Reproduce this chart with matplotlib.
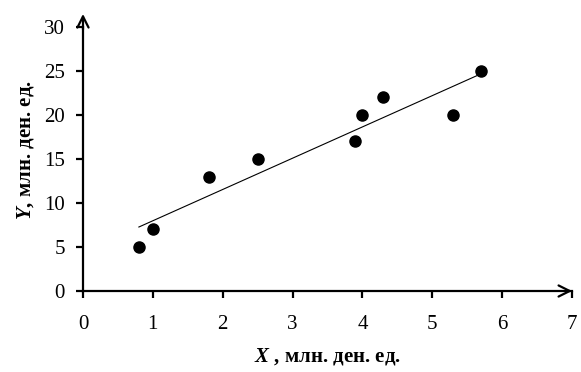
import numpy as np
import matplotlib
matplotlib.use("Agg")
import matplotlib.pyplot as plt

plt.rcParams['font.family'] = ['Liberation Serif', 'DejaVu Serif']
plt.rcParams['mathtext.fontset'] = 'custom'
plt.rcParams['mathtext.rm'] = 'Liberation Serif'
plt.rcParams['mathtext.it'] = 'Liberation Serif:italic'
plt.rcParams['mathtext.bf'] = 'Liberation Serif:bold'
plt.rcParams['mathtext.bfit'] = 'Liberation Serif:bold:italic'

x_vals = [0.8, 1.0, 1.8, 2.5, 3.9, 4.0, 4.3, 5.3, 5.7]
y_vals = [5, 7, 13, 15, 17, 20, 22, 20, 25]
x_ticks = [0, 1, 2, 3, 4, 5, 6, 7]
y_ticks = [0, 5, 10, 15, 20, 25, 30]
x_label = r'$\mathbfit{X}$ , млн. ден. ед.'
y_label = r'$\mathbfit{Y}$, млн. ден. ед.'

fig = plt.figure(figsize=(5.81, 3.72), dpi=100)
ax = fig.add_axes([83/581, 1-291/372, (572-83)/581, (291-27)/372])

x = np.array(x_vals)
y = np.array(y_vals)
k, b = np.polyfit(x, y, 1)
xl = np.array([x.min(), x.max()])
ax.plot(xl, k*xl + b, color='black', lw=0.8)
ax.plot(x, y, 'o', color='black', markersize=8)

ax.set_xlim(0, 7)
ax.set_ylim(0, 30)
ax.set_xticks(x_ticks)
ax.set_yticks(y_ticks)
for s in ['top', 'right']:
    ax.spines[s].set_visible(False)
for s in ['left', 'bottom']:
    ax.spines[s].set_linewidth(1.6)
ax.tick_params(axis='both', direction='out', length=5, width=1.6, labelsize=15)
ax.tick_params(axis='x', pad=12)
ax.tick_params(axis='y', pad=8)

# arrows
ax.annotate('', xy=(1.006, 0), xytext=(0.98, 0), xycoords='axes fraction',
            arrowprops=dict(arrowstyle='->,head_length=0.8,head_width=0.4', lw=1.6, color='black'),
            annotation_clip=False)
ax.annotate('', xy=(0, 1.06), xytext=(0, 0.98), xycoords='axes fraction',
            arrowprops=dict(arrowstyle='->,head_length=0.8,head_width=0.4', lw=1.6, color='black'),
            annotation_clip=False)

ax.set_xlabel(x_label, fontsize=15, fontweight='bold', labelpad=9)
ax.set_ylabel(y_label, fontsize=15, fontweight='bold')
ax.yaxis.set_label_coords(-(83 - 36) / 489, (291 - 150) / 264)

fig.savefig('out.png', dpi=100)
